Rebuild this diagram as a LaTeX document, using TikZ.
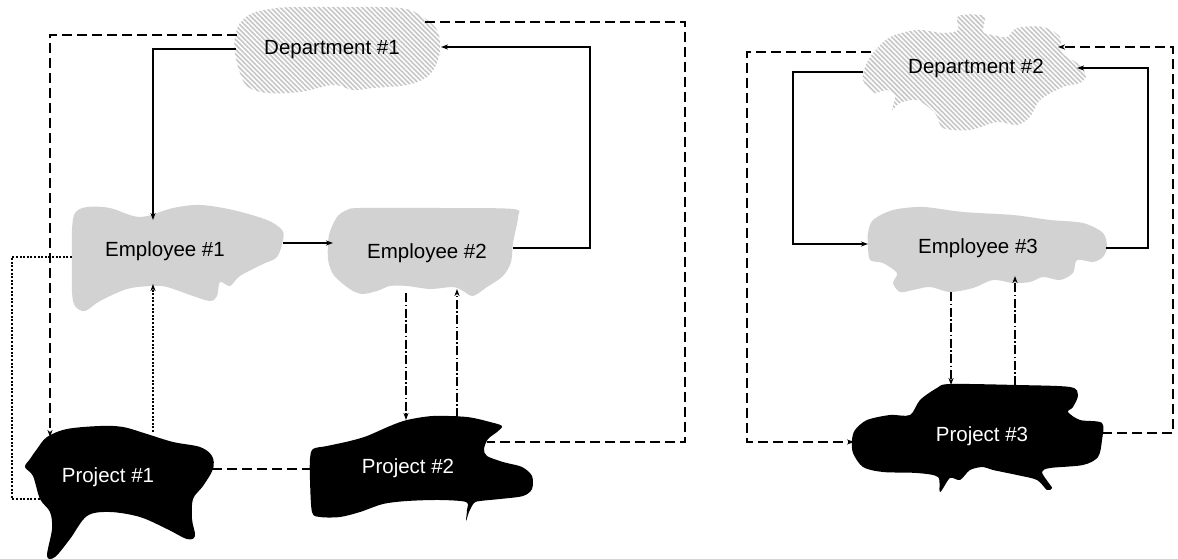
\documentclass[tikz,border=0pt]{standalone}
\usepackage{fontspec}
\setmainfont{Liberation Sans}
\usetikzlibrary{arrows.meta,patterns.meta}
\begin{document}
\begin{tikzpicture}[x=1pt,y=-1pt,
  lbl/.style={font=\fontsize{20.5}{24}\selectfont, inner sep=0pt},
  wlbl/.style={lbl, text=white},
  hatchblob/.style={preaction={fill=white}, pattern={Lines[angle=-45,distance=3.4pt,line width=1.6pt]}, pattern color=gray!45},
  grayblob/.style={fill=gray!35},
  blackblob/.style={fill=black},
  conn/.style={line width=1.2pt},
  arr/.style={-{Stealth[length=7pt,width=5pt,inset=2pt]}},
  dsh/.style={conn, dash pattern=on 10pt off 5pt},
  dtt/.style={conn, dash pattern=on 2pt off 1.6pt},
  ddot/.style={conn, dash pattern=on 9pt off 2.5pt on 1.5pt off 2.5pt}
]
\useasboundingbox (0,0) rectangle (1178,559);

% ---------- blobs ----------
% Department #1
\path[hatchblob] plot[smooth cycle, tension=0.6] coordinates {
 (240,23) (253,13) (277,8) (300,7) (340,7) (400,8) (423,17) (437,30) (440,47)
 (437,63) (427,77) (407,85) (373,88) (353,90) (333,85) (300,92) (267,93) (248,87)
 (240,73) (235,53) (235,37)};
% Employee #1
\path[grayblob] plot[smooth cycle, tension=0.55] coordinates {
 (72,230) (75,213) (87,207) (110,208) (140,217) (173,208) (200,205) (233,210)
 (267,220) (282,230) (283,240) (277,257) (263,264) (240,276) (230,286) (220,282)
 (217,296) (210,301) (193,296) (167,287) (152,286) (127,289) (100,301) (85,311)
 (75,306) (72,292) (72,259)};
% Employee #2
\path[grayblob] plot[smooth cycle, tension=0.5] coordinates {
 (337,217) (347,210) (360,208) (440,208) (513,209) (518,217) (513,243) (511,262)
 (503,276) (487,287) (473,296) (463,291) (453,287) (430,289) (407,286) (390,286)
 (377,291) (363,294) (353,291) (343,284) (333,274) (328,259) (329,235)};
% Project #1
\path[blackblob] plot[smooth cycle, tension=0.55] coordinates {
 (47,437) (67,429) (100,426) (123,427) (147,434) (173,442) (200,447) (212,456)
 (213,469) (203,486) (193,499) (192,519) (195,536) (187,539) (167,529) (140,517)
 (110,512) (87,516) (70,539) (55,557) (47,556) (52,529) (50,512) (40,499)
 (33,476) (25,467) (30,459) (37,449)};
% Project #2
\path[blackblob] plot[smooth cycle, tension=0.5] coordinates {
 (313,449) (327,446) (350,441) (367,436) (390,426) (407,420) (433,416) (467,417)
 (490,422) (502,426) (497,432) (488,439) (484,449) (487,456) (503,462) (522,467)
 (532,476) (532,489) (523,496) (500,499) (480,501) (474,503) (469,512) (466,521)
 (467,510) (466,502) (440,500) (407,501) (383,504) (360,512) (340,517) (320,517)
 (312,512) (310,480) (310,459)};
% Department #2
\path[hatchblob] plot[smooth cycle, tension=0.5] coordinates {
 (958,16) (984,16) (983,32) (993,35) (1007,37) (1017,28) (1043,27) (1060,37)
 (1062,53) (1077,63) (1086,75) (1080,83) (1063,87) (1040,100) (1030,117) (1017,125)
 (997,122) (970,130) (943,128) (935,113) (917,100) (900,103) (892,110) (895,97)
 (887,90) (873,93) (863,80) (865,67) (873,53) (890,37) (917,30) (943,33) (958,30)};
% Employee #3
\path[grayblob] plot[smooth cycle, tension=0.5] coordinates {
 (868,233) (873,220) (893,210) (923,207) (963,212) (1013,215) (1050,220) (1083,223)
 (1103,233) (1107,247) (1103,257) (1093,262) (1077,260) (1073,273) (1060,280)
 (1043,277) (1030,282) (1013,283) (993,280) (973,288) (950,292) (930,287) (913,290)
 (900,292) (893,283) (897,273) (883,263) (870,260) (868,245)};
% Project #3
\path[blackblob] plot[smooth cycle, tension=0.5] coordinates {
 (855,430) (867,420) (890,415) (910,415) (920,400) (937,388) (950,384) (1017,385)
 (1070,387) (1078,395) (1073,407) (1068,412) (1080,420) (1102,423) (1102,440)
 (1098,457) (1083,465) (1050,468) (1042,472) (1048,482) (1052,488) (1047,490)
 (1037,480) (1017,475) (993,470) (983,467) (970,470) (960,480) (950,478) (940,492)
 (938,477) (917,473) (883,472) (863,467) (853,453) (852,440)};

% ---------- labels ----------
\node[lbl]  (d1) at (332,50)  {Department \#1};
\node[lbl]  (e1) at (165,251) {Employee \#1};
\node[lbl]  (e2) at (427,253) {Employee \#2};
\node[wlbl] (p1) at (108,477) {Project \#1};
\node[wlbl] (p2) at (408,468) {Project \#2};
\node[lbl]  (d2) at (976,68)  {Department \#2};
\node[lbl]  (e3) at (978,248) {Employee \#3};
\node[wlbl] (p3) at (982,436) {Project \#3};

% ---------- connection points ----------
\coordinate (d1l)  at (236,49);
\coordinate (d1tl) at (237,35);
\coordinate (d1tr) at (425,22);
\coordinate (d1r)  at (441,47);
\coordinate (e1t)  at (153,220);
\coordinate (e1r)  at (283,243);
\coordinate (e1l)  at (72,257);
\coordinate (e1b)  at (153,284);
\coordinate (e2l)  at (333,243);
\coordinate (e2r)  at (513,248);
\coordinate (e2b)  at (406,293);
\coordinate (e2b2) at (457,289);
\coordinate (p1t)  at (50,437);
\coordinate (p1t2) at (153,432);
\coordinate (p1l)  at (43,499);
\coordinate (p1r)  at (212,469);
\coordinate (p2t)  at (406,420);
\coordinate (p2t2) at (457,417);
\coordinate (p2l)  at (310,469);
\coordinate (p2r)  at (487,442);
\coordinate (k1) at (590,47);
\coordinate (k2) at (685,442);
\coordinate (k3) at (12,499);

\coordinate (d2l)  at (871,52);
\coordinate (d2l2) at (863,72);
\coordinate (d2r)  at (1058,47);
\coordinate (d2r2) at (1077,68);
\coordinate (e3l)  at (868,244);
\coordinate (e3r)  at (1106,248);
\coordinate (e3b)  at (951,292);
\coordinate (e3b2) at (1015,276);
\coordinate (p3l)  at (854,442);
\coordinate (p3r)  at (1102,433);
\coordinate (p3t)  at (951,385);
\coordinate (p3t2) at (1015,385);
\coordinate (k4) at (747,442);
\coordinate (k5) at (1173,47);
\coordinate (k6) at (793,244);
\coordinate (k7) at (1148,68);

% ---------- connectors (left group) ----------
\draw[conn,arr] (d1l) -| (e1t);
\draw[conn,arr] (e1r) -- (e2l);
\draw[conn,arr] (e2r) -| (k1) -- (d1r);
\draw[dsh,arr] (d1tl) -| (p1t);
\draw[dsh] (d1tr) -| (k2) -- (p2r);
\draw[dtt] (e1l) -| (k3) -- (p1l);
\draw[dtt,arr] (p1t2) -- (e1b);
\draw[ddot,arr] (e2b) -- (p2t);
\draw[ddot,arr] (p2t2) -- (e2b2);
\draw[dsh] (p1r) -- (p2l);

% ---------- connectors (right group) ----------
\draw[dsh,arr] (d2l) -| (k4) -- (p3l);
\draw[dsh,arr] (p3r) -| (k5) -- (d2r);
\draw[conn,arr] (d2l2) -| (k6) -- (e3l);
\draw[conn,arr] (e3r) -| (k7) -- (d2r2);
\draw[ddot,arr] (e3b) -- (p3t);
\draw[ddot,arr] (p3t2) -- (e3b2);
\end{tikzpicture}
\end{document}
